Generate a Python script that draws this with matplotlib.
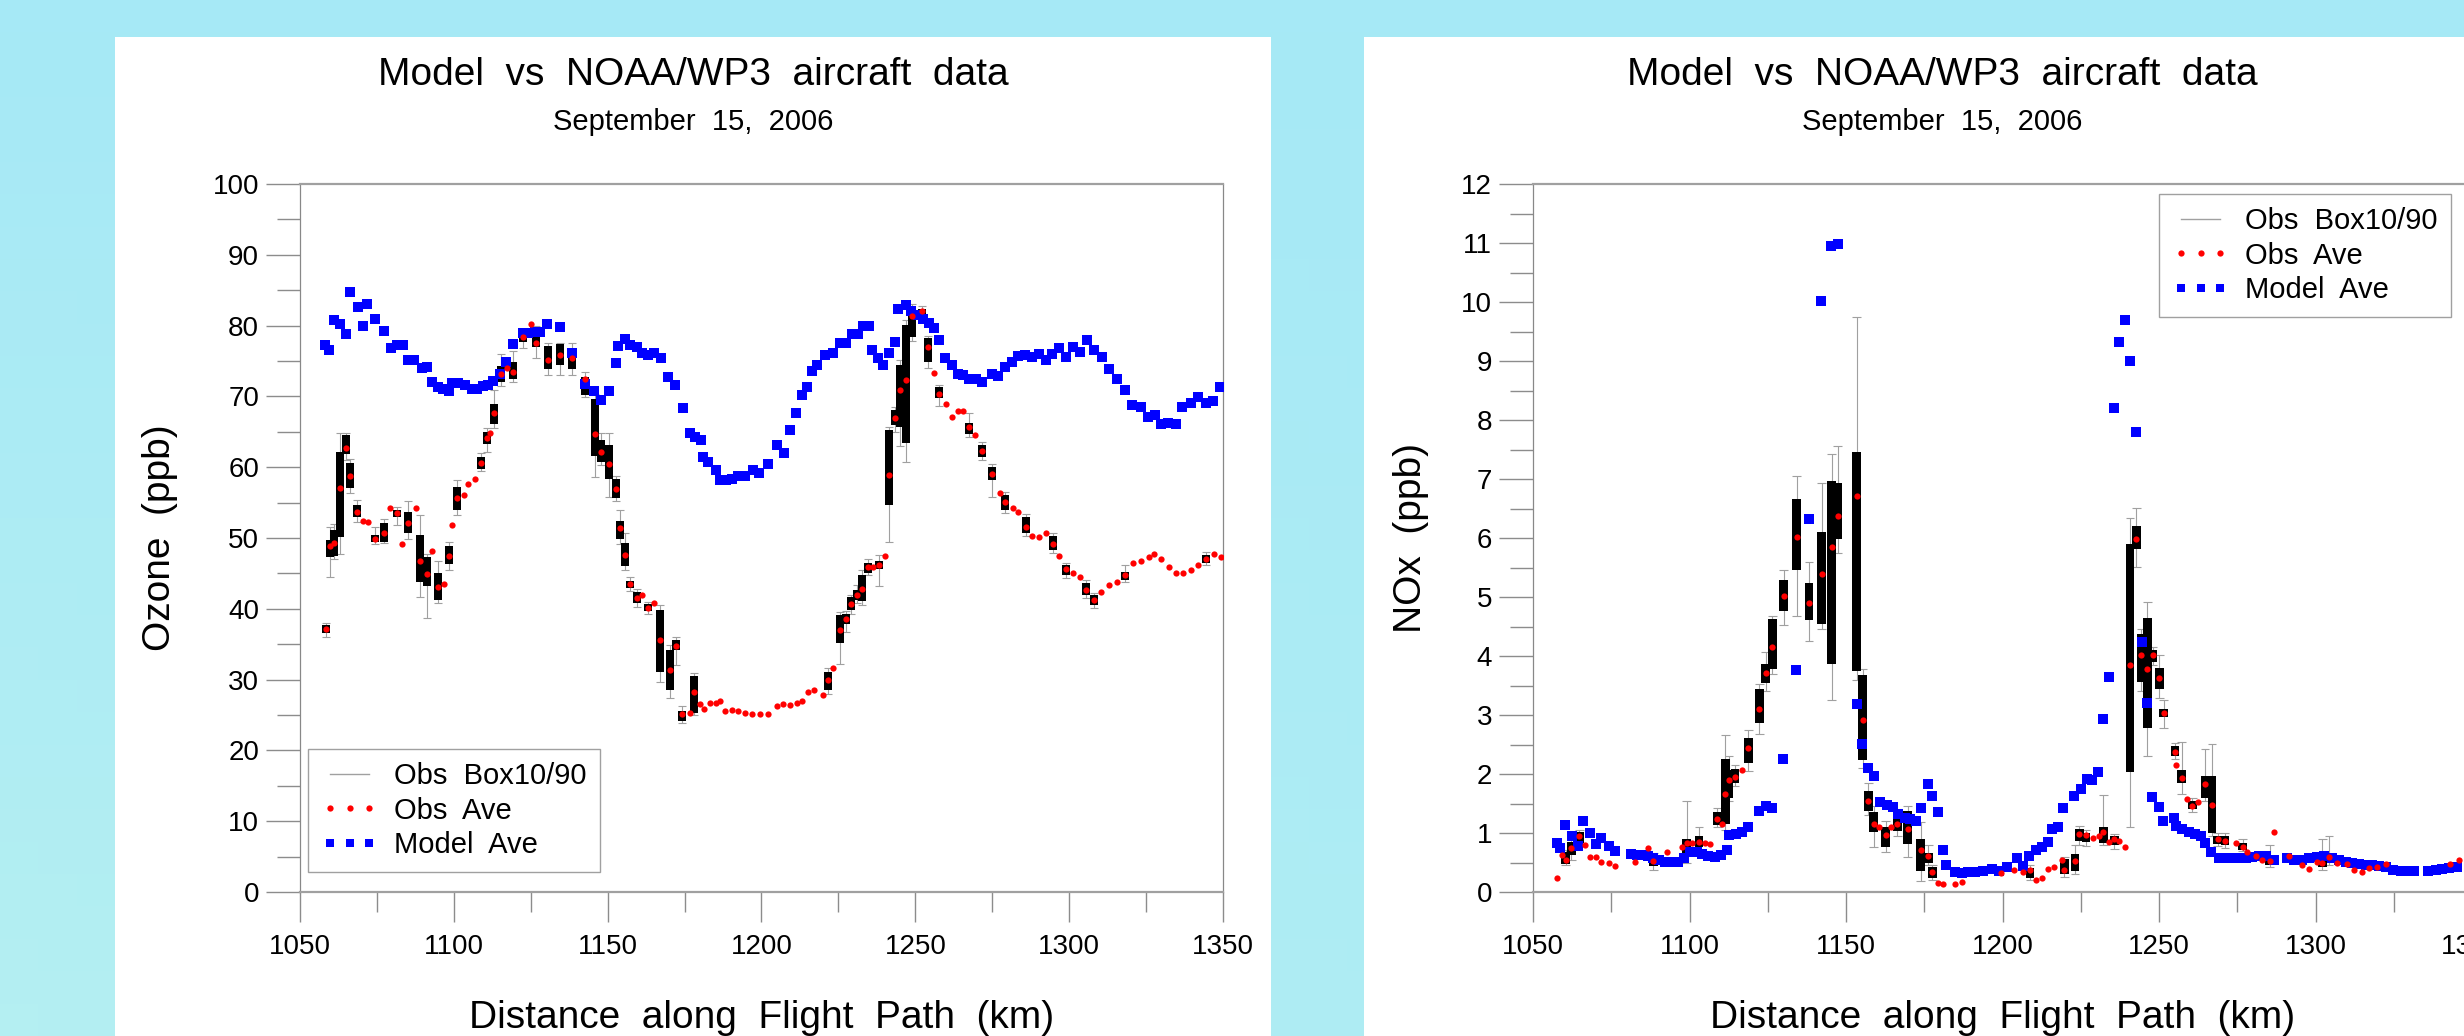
import numpy as np
import matplotlib
matplotlib.use('Agg')
import matplotlib.pyplot as plt
from matplotlib.lines import Line2D
from matplotlib.patches import Rectangle

plt.rcParams['font.family'] = ['Liberation Sans', 'DejaVu Sans']

W, H = 2464, 1036

# ---- data: (km, value) --------------------------------------------------
oz_model = [
    (1058.1, 77.2), (1059.4, 76.5), (1061.0, 80.8), (1063.0, 80.2), (1064.9, 78.8),
    (1066.3, 84.7), (1068.7, 82.6), (1070.4, 80.0), (1071.9, 83.1), (1074.4, 81.0),
    (1077.3, 79.3), (1079.5, 76.9), (1081.4, 77.2), (1083.4, 77.2), (1085.2, 75.1),
    (1087.2, 75.2), (1089.5, 74.0), (1091.2, 74.1), (1092.8, 72.0), (1095.0, 71.3),
    (1096.6, 71.1), (1098.4, 70.8), (1099.3, 71.9), (1101.5, 71.9), (1103.6, 71.6),
    (1105.8, 71.1), (1107.4, 71.1), (1109.6, 71.4), (1111.2, 71.6), (1112.8, 72.2),
    (1115.0, 73.1), (1117.0, 74.9), (1119.3, 77.4), (1122.4, 78.9), (1124.2, 78.9),
    (1126.4, 79.1), (1128.0, 79.1), (1130.4, 80.2), (1134.5, 79.8), (1138.5, 76.1),
    (1142.6, 71.8), (1145.7, 70.8), (1147.8, 69.5), (1150.4, 70.7), (1152.6, 74.7),
    (1153.5, 77.1), (1155.6, 78.1), (1157.3, 77.2), (1159.4, 77.0), (1161.1, 76.1),
    (1163.2, 75.8), (1165.2, 76.1), (1167.3, 75.4), (1169.7, 72.7), (1171.9, 71.6),
    (1174.4, 68.4), (1176.8, 64.9), (1178.4, 64.3), (1180.3, 63.8), (1181.1, 61.5),
    (1182.7, 60.8), (1185.1, 59.6), (1186.5, 58.2), (1188.4, 58.2), (1190.3, 58.4),
    (1192.5, 58.7), (1194.6, 58.7), (1197.3, 59.6), (1199.3, 59.2), (1202.1, 60.5),
    (1204.9, 63.1), (1207.3, 62.0), (1209.3, 65.2), (1211.2, 67.7), (1213.1, 70.2),
    (1214.9, 71.3), (1216.3, 73.6), (1218.2, 74.4), (1220.7, 75.8), (1223.4, 76.2),
    (1225.5, 77.5), (1227.4, 77.5), (1229.3, 78.8), (1231.3, 78.8), (1233.1, 79.9),
    (1235.0, 79.9), (1236.0, 76.5), (1237.8, 75.4), (1239.6, 74.4), (1241.6, 76.1),
    (1243.4, 77.7), (1244.3, 82.4), (1246.9, 82.9), (1248.6, 82.0), (1250.8, 81.5),
    (1252.6, 81.0), (1254.5, 80.4), (1256.2, 79.6), (1257.7, 77.9), (1259.7, 75.4),
    (1261.8, 74.4), (1263.8, 73.2), (1265.6, 73.0), (1267.6, 72.5), (1269.6, 72.5),
    (1271.6, 72.1), (1274.8, 73.2), (1277.0, 72.9), (1279.2, 74.1), (1281.3, 74.9),
    (1283.5, 75.7), (1285.7, 75.8), (1288.0, 75.6), (1290.2, 76.0), (1292.4, 75.1),
    (1294.5, 76.0), (1296.7, 76.8), (1298.9, 75.6), (1301.4, 77.0), (1303.5, 76.3),
    (1305.7, 78.0), (1308.2, 76.5), (1310.6, 75.6), (1312.9, 73.9), (1315.5, 72.4),
    (1318.2, 70.9), (1320.5, 68.8), (1323.4, 68.5), (1325.7, 67.1), (1327.9, 67.4),
    (1329.9, 66.1), (1332.2, 66.3), (1334.6, 66.1), (1336.8, 68.5), (1339.6, 69.0),
    (1342.0, 69.9), (1344.4, 69.0), (1346.9, 69.3), (1349.0, 71.3),
]

oz_obs = [
    (1058.3, 37.1), (1059.8, 48.8), (1061.0, 49.3), (1063.0, 57.0), (1065.0, 62.7),
    (1066.3, 58.8), (1068.6, 53.7), (1070.6, 52.4), (1072.0, 52.3), (1074.4, 49.9),
    (1077.4, 50.7), (1079.3, 54.2), (1081.4, 53.5), (1083.3, 49.2), (1085.2, 52.1),
    (1087.6, 54.3), (1089.0, 46.7), (1091.2, 44.9), (1093.0, 48.1), (1094.8, 43.1),
    (1096.9, 43.5), (1098.4, 47.4), (1099.3, 51.8), (1100.9, 55.7), (1103.3, 56.1),
    (1104.7, 57.6), (1106.9, 58.4), (1108.8, 60.6), (1110.7, 64.1), (1111.8, 64.9),
    (1113.1, 67.7), (1115.3, 73.2), (1117.4, 74.0), (1119.3, 73.5), (1122.4, 78.4),
    (1125.0, 80.2), (1126.6, 77.6), (1130.5, 75.1), (1134.5, 75.8), (1138.5, 75.4),
    (1142.6, 72.4), (1145.9, 64.7), (1147.9, 62.1), (1150.4, 60.4), (1152.6, 56.9),
    (1154.0, 51.4), (1155.6, 47.6), (1157.3, 43.5), (1159.4, 41.5), (1161.3, 41.9),
    (1163.2, 40.1), (1165.2, 40.8), (1167.0, 35.6), (1170.3, 31.4), (1172.1, 34.7),
    (1174.3, 25.1), (1176.8, 25.3), (1178.1, 28.3), (1180.0, 26.5), (1181.4, 25.9),
    (1183.3, 26.7), (1185.1, 26.7), (1186.5, 27.0), (1188.1, 25.6), (1190.3, 25.7),
    (1192.5, 25.5), (1194.6, 25.3), (1197.0, 25.2), (1199.5, 25.1), (1202.0, 25.2),
    (1204.9, 26.3), (1207.1, 26.6), (1209.3, 26.4), (1211.4, 26.7), (1213.1, 27.0),
    (1215.0, 28.2), (1217.2, 28.6), (1219.9, 27.8), (1221.5, 29.9), (1223.4, 31.6),
    (1225.5, 37.0), (1227.4, 38.5), (1229.1, 40.7), (1230.9, 41.9), (1232.6, 42.8),
    (1234.7, 45.9), (1236.4, 45.9), (1238.2, 46.2), (1240.2, 47.5), (1241.6, 58.9),
    (1243.4, 67.0), (1245.0, 70.9), (1247.0, 72.3), (1248.8, 81.3), (1252.1, 82.0),
    (1254.2, 77.0), (1256.1, 73.3), (1257.8, 70.4), (1259.9, 68.9), (1262.0, 67.1),
    (1264.0, 67.9), (1265.6, 67.9), (1267.6, 65.7), (1269.4, 64.5), (1271.6, 62.3),
    (1274.8, 59.1), (1277.5, 56.4), (1279.2, 55.1), (1281.7, 54.2), (1283.5, 53.7),
    (1285.9, 51.6), (1287.8, 50.3), (1290.2, 50.1), (1292.4, 50.7), (1294.7, 49.2),
    (1296.7, 47.4), (1298.9, 45.6), (1301.4, 45.1), (1303.5, 44.5), (1305.4, 42.7),
    (1308.1, 41.2), (1310.4, 42.4), (1313.1, 43.3), (1315.5, 43.8), (1318.2, 44.8),
    (1320.7, 46.4), (1323.4, 46.7), (1326.0, 47.3), (1327.7, 47.7), (1329.9, 47.0),
    (1332.3, 45.9), (1334.6, 45.1), (1337.1, 45.1), (1339.6, 45.5), (1342.0, 46.2),
    (1344.4, 47.1), (1347.2, 47.7), (1349.4, 47.3),
]

# (km, box low, box high, whisker low, whisker high)
oz_boxes = [
    (1058.3, 36.6, 37.7, 36.0, 38.0), (1059.8, 47.3, 49.7, 44.5, 51.6),
    (1061.0, 47.4, 51.1, 47.0, 52.0), (1063.0, 50.2, 62.1, 47.8, 64.8),
    (1065.0, 61.9, 64.5, 61.0, 64.8), (1066.3, 57.0, 60.6, 56.3, 61.2),
    (1068.6, 52.9, 54.7, 52.3, 55.3), (1074.4, 49.5, 50.4, 49.2, 51.6),
    (1077.4, 49.5, 52.1, 49.3, 52.7), (1081.4, 52.9, 53.9, 51.8, 54.4),
    (1085.2, 50.7, 53.7, 49.9, 55.2), (1089.0, 43.8, 50.4, 41.7, 53.2),
    (1091.2, 43.2, 47.3, 38.7, 47.8), (1094.8, 41.3, 45.1, 40.8, 46.7),
    (1098.4, 46.3, 48.9, 45.5, 49.5), (1100.9, 54.0, 57.2, 53.2, 58.2),
    (1108.8, 59.8, 61.4, 59.4, 62.0), (1110.7, 63.3, 65.0, 62.2, 65.5),
    (1113.1, 66.1, 68.9, 65.6, 70.9), (1115.3, 72.1, 74.3, 71.5, 76.0),
    (1119.3, 72.5, 74.8, 72.0, 76.4), (1122.4, 77.7, 79.1, 76.9, 79.5),
    (1126.6, 77.0, 79.4, 75.4, 80.0), (1130.5, 73.8, 77.1, 73.0, 77.6),
    (1134.5, 74.4, 77.4, 73.0, 77.6), (1138.5, 73.8, 76.9, 73.0, 77.6),
    (1142.6, 70.2, 72.8, 69.9, 73.4), (1145.9, 61.6, 69.7, 58.6, 70.4),
    (1147.9, 60.8, 63.9, 60.3, 64.8), (1150.4, 58.3, 63.1, 55.8, 64.8),
    (1152.6, 55.6, 58.3, 55.2, 58.8), (1154.0, 49.9, 52.4, 49.2, 54.0),
    (1155.6, 46.0, 49.3, 45.5, 50.7), (1157.3, 42.9, 43.9, 42.5, 44.5),
    (1159.4, 40.8, 42.4, 40.2, 42.8), (1163.2, 39.7, 40.7, 39.3, 41.0),
    (1167.0, 31.1, 39.8, 29.7, 40.5), (1170.3, 28.6, 34.2, 27.4, 34.9),
    (1172.1, 34.2, 35.6, 32.0, 36.0), (1174.3, 24.1, 25.6, 23.8, 26.3),
    (1178.1, 25.3, 30.5, 25.0, 31.0), (1221.5, 28.6, 31.1, 28.0, 31.6),
    (1225.5, 35.2, 39.1, 32.2, 39.6), (1227.4, 37.9, 39.3, 36.7, 39.7),
    (1229.1, 39.8, 41.7, 39.2, 42.0), (1230.9, 41.3, 42.6, 40.8, 43.3),
    (1232.6, 41.1, 44.8, 40.6, 45.5), (1234.7, 45.1, 46.5, 44.8, 47.0),
    (1238.2, 45.6, 46.8, 43.2, 47.6), (1241.6, 54.7, 65.3, 49.5, 65.7),
    (1243.4, 65.9, 68.1, 65.0, 68.5), (1245.0, 65.7, 74.4, 63.0, 75.2),
    (1247.0, 63.4, 80.1, 60.8, 80.8), (1248.8, 78.4, 82.7, 77.8, 83.0),
    (1252.1, 81.0, 82.4, 80.5, 82.8), (1254.2, 74.9, 78.2, 74.0, 78.6),
    (1257.8, 69.8, 71.3, 68.6, 71.6), (1267.6, 64.7, 66.3, 64.2, 67.6),
    (1271.6, 61.5, 63.1, 61.0, 63.5), (1274.8, 58.2, 60.0, 55.8, 60.5),
    (1279.2, 54.0, 56.1, 53.6, 56.5), (1285.9, 50.7, 52.9, 50.3, 53.4),
    (1294.7, 48.3, 50.3, 47.9, 50.7), (1298.9, 44.8, 46.2, 44.3, 46.5),
    (1305.4, 41.9, 43.6, 41.5, 44.0), (1308.1, 40.5, 41.9, 40.1, 42.3),
    (1318.2, 44.1, 45.2, 43.8, 46.2), (1344.4, 46.5, 47.6, 46.2, 48.0),
]

nox_model = [
    (1057.6, 0.83), (1058.6, 0.74), (1060.2, 1.13), (1062.4, 0.95), (1064.5, 0.78),
    (1066.1, 1.21), (1068.2, 1.00), (1070.0, 0.82), (1071.7, 0.91), (1074.3, 0.78),
    (1076.2, 0.70), (1081.3, 0.64), (1083.1, 0.63), (1084.9, 0.62), (1086.6, 0.61),
    (1088.4, 0.57), (1090.3, 0.54), (1092.2, 0.51), (1094.3, 0.51), (1096.4, 0.51),
    (1098.3, 0.57), (1100.2, 0.67), (1102.3, 0.67), (1104.1, 0.64), (1106.0, 0.61),
    (1108.1, 0.59), (1110.1, 0.62), (1111.9, 0.72), (1112.6, 0.97), (1114.7, 0.98),
    (1116.7, 1.02), (1118.8, 1.10), (1122.3, 1.38), (1124.3, 1.46), (1126.5, 1.42),
    (1130.0, 2.25), (1134.0, 3.77), (1138.2, 6.32), (1142.0, 10.02), (1145.2, 10.95),
    (1147.5, 10.98), (1153.4, 3.18), (1155.0, 2.51), (1157.1, 2.10), (1158.9, 1.97),
    (1160.9, 1.53), (1163.0, 1.48), (1165.1, 1.44), (1166.7, 1.32), (1168.8, 1.25),
    (1170.4, 1.23), (1172.3, 1.21), (1173.9, 1.42), (1176.1, 1.83), (1177.6, 1.63),
    (1179.5, 1.35), (1180.9, 0.72), (1181.8, 0.45), (1184.8, 0.34), (1187.0, 0.33),
    (1189.1, 0.34), (1191.2, 0.34), (1193.9, 0.36), (1196.7, 0.39), (1199.0, 0.36),
    (1201.3, 0.42), (1204.5, 0.57), (1206.4, 0.44), (1208.6, 0.61), (1210.7, 0.72),
    (1212.5, 0.77), (1214.4, 0.85), (1215.8, 1.06), (1217.6, 1.10), (1219.4, 1.42),
    (1222.7, 1.63), (1225.1, 1.75), (1226.9, 1.91), (1228.6, 1.89), (1230.4, 2.04),
    (1232.2, 2.93), (1234.1, 3.65), (1235.6, 8.20), (1237.3, 9.33), (1239.2, 9.70),
    (1240.7, 9.00), (1242.8, 7.79), (1244.5, 4.24), (1246.3, 3.21), (1247.9, 1.61),
    (1250.1, 1.44), (1251.3, 1.21), (1254.8, 1.26), (1255.4, 1.12), (1257.5, 1.07),
    (1259.6, 1.02), (1261.5, 0.98), (1263.4, 0.95), (1264.7, 0.83), (1266.5, 0.67),
    (1269.2, 0.57), (1271.3, 0.57), (1273.5, 0.57), (1275.6, 0.57), (1277.7, 0.57),
    (1279.8, 0.59), (1282.0, 0.61), (1284.1, 0.61), (1286.8, 0.54), (1291.0, 0.57),
    (1293.1, 0.54), (1295.8, 0.54), (1297.9, 0.57), (1300.6, 0.59), (1302.7, 0.61),
    (1305.4, 0.57), (1307.5, 0.54), (1309.6, 0.51), (1311.8, 0.49), (1313.9, 0.47),
    (1316.0, 0.45), (1318.1, 0.45), (1320.3, 0.44), (1322.4, 0.42), (1324.7, 0.38),
    (1327.2, 0.36), (1329.8, 0.36), (1331.4, 0.36), (1336.0, 0.36), (1338.4, 0.38),
    (1340.5, 0.39), (1342.6, 0.40), (1345.3, 0.42),
]

nox_obs = [
    (1057.8, 0.23), (1059.4, 0.62), (1060.4, 0.54), (1062.3, 0.74), (1064.8, 0.95),
    (1066.6, 0.79), (1068.2, 0.59), (1070.0, 0.59), (1071.7, 0.51), (1074.3, 0.49),
    (1076.2, 0.44), (1082.6, 0.51), (1086.8, 0.74), (1088.4, 0.53), (1092.7, 0.67),
    (1097.5, 0.77), (1099.1, 0.83), (1100.7, 0.83), (1103.0, 0.85), (1104.9, 0.83),
    (1106.5, 0.82), (1108.9, 1.23), (1110.3, 1.15), (1111.5, 1.66), (1112.6, 1.89),
    (1114.5, 1.95), (1116.9, 2.07), (1118.8, 2.44), (1122.3, 3.10), (1124.4, 3.71),
    (1126.4, 4.15), (1130.1, 5.01), (1134.2, 6.01), (1138.2, 4.89), (1142.2, 5.39),
    (1145.4, 5.84), (1147.3, 6.38), (1153.4, 6.72), (1155.3, 2.91), (1157.1, 1.55),
    (1158.9, 1.15), (1160.6, 1.10), (1162.7, 0.97), (1164.4, 1.10), (1166.4, 1.15),
    (1169.7, 1.07), (1173.9, 0.72), (1176.3, 0.61), (1177.6, 0.34), (1179.5, 0.15),
    (1181.1, 0.14), (1184.8, 0.13), (1187.0, 0.17), (1199.5, 0.32), (1203.8, 0.38),
    (1206.4, 0.34), (1208.8, 0.38), (1210.7, 0.21), (1212.6, 0.23), (1214.4, 0.39),
    (1216.5, 0.42), (1219.0, 0.54), (1219.7, 0.38), (1223.2, 0.53), (1224.5, 0.98),
    (1226.7, 0.96), (1228.8, 0.91), (1230.7, 0.95), (1232.2, 1.02), (1234.1, 0.85),
    (1235.7, 0.89), (1237.3, 0.87), (1239.2, 0.77), (1240.7, 3.84), (1242.8, 5.98),
    (1244.4, 4.01), (1246.3, 3.78), (1248.1, 4.02), (1250.1, 3.62), (1251.5, 3.04),
    (1255.1, 2.38), (1255.4, 2.16), (1257.2, 1.94), (1259.1, 1.57), (1260.7, 1.45),
    (1262.6, 1.53), (1264.7, 1.83), (1266.9, 1.48), (1268.7, 0.89), (1271.1, 0.87),
    (1274.5, 0.83), (1276.7, 0.77), (1278.2, 0.67), (1280.9, 0.61), (1283.0, 0.54),
    (1285.4, 0.53), (1286.8, 1.01), (1291.5, 0.61), (1295.8, 0.45), (1297.9, 0.39),
    (1300.6, 0.51), (1302.2, 0.49), (1304.3, 0.59), (1307.0, 0.49), (1310.2, 0.47),
    (1312.3, 0.38), (1314.8, 0.34), (1317.1, 0.40), (1319.7, 0.42), (1322.4, 0.47),
    (1343.1, 0.47), (1345.8, 0.54),
]

nox_boxes = [
    (1060.4, 0.47, 0.68, 0.45, 0.72), (1062.3, 0.62, 0.84, 0.55, 0.90),
    (1064.8, 0.83, 1.02, 0.78, 1.05), (1088.4, 0.44, 0.61, 0.37, 0.66),
    (1099.1, 0.64, 0.89, 0.50, 1.55), (1103.0, 0.76, 0.95, 0.70, 1.10),
    (1108.9, 1.13, 1.36, 1.10, 1.42), (1111.5, 1.15, 2.25, 1.05, 2.66),
    (1112.6, 1.60, 2.06, 1.55, 2.31), (1114.5, 1.85, 2.09, 1.80, 2.15),
    (1118.8, 2.19, 2.61, 2.05, 2.74), (1122.3, 2.87, 3.44, 2.67, 3.52),
    (1124.4, 3.54, 3.86, 3.40, 4.07), (1126.4, 3.78, 4.63, 3.70, 4.68),
    (1130.1, 4.77, 5.28, 4.53, 5.46), (1134.2, 5.45, 6.66, 4.67, 7.05),
    (1138.2, 4.61, 5.23, 4.25, 5.60), (1142.2, 4.55, 6.11, 4.46, 6.94),
    (1145.4, 3.86, 6.96, 3.25, 7.43), (1147.3, 5.98, 6.94, 5.75, 7.56),
    (1153.4, 3.74, 7.45, 3.60, 9.74), (1155.3, 2.23, 3.67, 2.10, 3.78),
    (1157.1, 1.38, 1.72, 1.30, 1.85), (1158.9, 1.02, 1.36, 0.76, 1.45),
    (1162.7, 0.76, 1.10, 0.68, 1.20), (1166.4, 1.04, 1.36, 0.95, 1.40),
    (1169.7, 0.82, 1.38, 0.60, 1.45), (1173.9, 0.36, 0.89, 0.19, 1.19),
    (1176.3, 0.49, 0.66, 0.45, 0.80), (1177.6, 0.24, 0.42, 0.20, 0.45),
    (1208.8, 0.23, 0.40, 0.20, 0.45), (1219.7, 0.30, 0.56, 0.25, 0.60),
    (1223.2, 0.36, 0.64, 0.30, 0.80), (1224.5, 0.87, 1.07, 0.80, 1.12),
    (1226.7, 0.85, 1.00, 0.78, 1.05), (1232.2, 0.83, 1.10, 0.80, 1.65),
    (1235.7, 0.80, 0.95, 0.73, 0.98), (1240.7, 2.03, 5.90, 1.10, 6.34),
    (1242.8, 5.81, 6.20, 5.51, 6.51), (1244.4, 3.56, 4.37, 3.40, 4.45),
    (1246.3, 2.78, 4.65, 2.31, 4.92), (1248.1, 3.90, 4.10, 3.85, 4.15),
    (1250.1, 3.44, 3.80, 3.28, 4.02), (1251.5, 2.97, 3.10, 2.78, 3.25),
    (1255.1, 2.30, 2.47, 2.25, 2.52), (1257.2, 1.85, 2.06, 1.66, 2.54),
    (1260.7, 1.40, 1.55, 1.35, 1.60), (1264.7, 1.59, 1.97, 1.55, 2.42),
    (1266.9, 1.00, 1.97, 0.95, 2.51), (1268.7, 0.81, 0.95, 0.78, 1.00),
    (1271.1, 0.79, 0.95, 0.75, 1.00), (1276.7, 0.72, 0.83, 0.70, 0.90),
    (1285.4, 0.45, 0.57, 0.43, 0.80), (1302.2, 0.42, 0.60, 0.38, 0.90),
    (1304.3, 0.50, 0.65, 0.45, 0.95),
]

title = 'Model  vs  NOAA/WP3  aircraft  data'
subtitle = 'September  15,  2006'
xlabel = 'Distance  along  Flight  Path  (km)'
legend_labels = ['Obs  Box10/90', 'Obs  Ave', 'Model  Ave']

GRAY = '#a0a0a0'
TICK = '#8c8c8c'
MODEL_MS = 7.2
OBS_MS = 4.5


def frac(x0, y0, x1, y1):
    """pixel box (top-left origin) -> figure fraction rect"""
    return [x0 / W, 1 - y1 / H, (x1 - x0) / W, (y1 - y0) / H]


def draw_chart(ax, model, obs, boxes, ymax, ystep, ylabel, box_w):
    bx, blo, bhi, wlo, whi = [np.array(c) for c in zip(*boxes)]
    ax.vlines(bx, wlo, whi, colors=GRAY, lw=0.8, zorder=2)
    cx = np.concatenate([bx, bx])
    ax.hlines(np.concatenate([wlo, whi]), cx - box_w / 2, cx + box_w / 2,
              colors=GRAY, lw=0.8, zorder=2)
    ax.bar(bx, bhi - blo, bottom=blo, width=box_w, color='black', lw=0, zorder=3)
    mx, my = zip(*model)
    ax.plot(mx, my, ls='none', marker='s', ms=MODEL_MS, color='#0000ff', mew=0, zorder=4)
    ox, oy = zip(*obs)
    ax.plot(ox, oy, ls='none', marker='o', ms=OBS_MS, color='#ff0000', mew=0, zorder=5)

    ax.set_xlim(1050, 1350)
    ax.set_ylim(0, ymax)
    ax.set_xticks(np.arange(1050, 1351, 50))
    ax.set_xticks(np.arange(1075, 1350, 50), minor=True)
    ax.set_yticks(np.arange(0, ymax + 0.1, ystep))
    ax.set_yticks(np.arange(ystep / 2, ymax, ystep), minor=True)
    ax.tick_params(axis='y', which='major', length=24.5, width=1.0, color=TICK,
                   pad=5, labelsize=20)
    ax.tick_params(axis='y', which='minor', length=16.5, width=1.0, color=TICK)
    ax.tick_params(axis='x', which='major', length=21.6, width=1.0, color=TICK,
                   pad=9, labelsize=20)
    ax.tick_params(axis='x', which='minor', length=14.4, width=1.0, color=TICK)
    for s in ('top', 'bottom'):
        ax.spines[s].set_linewidth(1.6)
        ax.spines[s].set_color(GRAY)
    for s in ('left', 'right'):
        ax.spines[s].set_linewidth(0.9)
        ax.spines[s].set_color('#888888')

    ax.set_xlabel(xlabel, fontsize=28)
    ax.xaxis.label.set_verticalalignment('baseline')
    ax.set_ylabel(ylabel, fontsize=28)
    ax.yaxis.label.set_verticalalignment('center')

    handles = [Line2D([], [], color=GRAY, lw=1.0),
               Line2D([], [], ls='none', marker='o', ms=OBS_MS, color='#ff0000', mew=0),
               Line2D([], [], ls='none', marker='s', ms=MODEL_MS - 1, color='#0000ff', mew=0)]
    return handles


fig = plt.figure(figsize=(W / 100, H / 100), dpi=100)

# background gradient + white panels
bg = fig.add_axes([0, 0, 1, 1], zorder=-10)
gx = np.linspace(0, 1, 64)[None, :, None]
gy = np.linspace(0, 1, 32)[:, None, None]
top = np.array([166, 233, 246]) / 255
bot_l = np.array([180, 239, 242]) / 255
bot_r = np.array([170, 235, 245]) / 255
grad = top * (1 - gy) + (bot_l * (1 - gx) + bot_r * gx) * gy
bg.imshow(grad, aspect='auto', extent=(0, 1, 0, 1), origin='upper')
for x0, x1 in ((115, 1271), (1364, 2520)):
    r = frac(x0, 37, x1, H + 5)
    bg.add_patch(Rectangle((r[0], r[1]), r[2], r[3], color='white', lw=0, zorder=2))
bg.set_xlim(0, 1)
bg.set_ylim(0, 1)
bg.axis('off')

ax1 = fig.add_axes(frac(300, 184, 1223, 892))
h = draw_chart(ax1, oz_model, oz_obs, oz_boxes, 100, 10, 'Ozone  (ppb)', 2.6)
ax1.xaxis.set_label_coords(0.5, -0.192)
ax1.yaxis.set_label_coords(-0.152, 0.5)
leg_kw = dict(loc='upper left', bbox_transform=fig.transFigure, frameon=True,
              fancybox=False, edgecolor=GRAY, framealpha=1, fontsize=21, numpoints=3,
              handlelength=1.95, handletextpad=0.55, labelspacing=0.22,
              borderpad=0.45, borderaxespad=0)
leg = ax1.legend(h, legend_labels, bbox_to_anchor=(308 / W, 1 - 749 / H), **leg_kw)
leg.get_frame().set_linewidth(1.0)

ax2 = fig.add_axes(frac(1533, 184, 2472, 892))
h = draw_chart(ax2, nox_model, nox_obs, nox_boxes, 12, 1, 'NOx  (ppb)', 2.8)
ax2.xaxis.set_label_coords(0.5, -0.192)
ax2.yaxis.set_label_coords(-0.130, 0.5)
leg = ax2.legend(h, legend_labels, bbox_to_anchor=(2159 / W, 1 - 194 / H), **leg_kw)
leg.get_frame().set_linewidth(1.0)

for cx in (693, 1942):
    fig.text(cx / W, 1 - 85 / H, title, ha='center', va='baseline', fontsize=28)
    fig.text(cx / W, 1 - 130 / H, subtitle, ha='center', va='baseline', fontsize=21)

fig.savefig('out.png', dpi=100)
